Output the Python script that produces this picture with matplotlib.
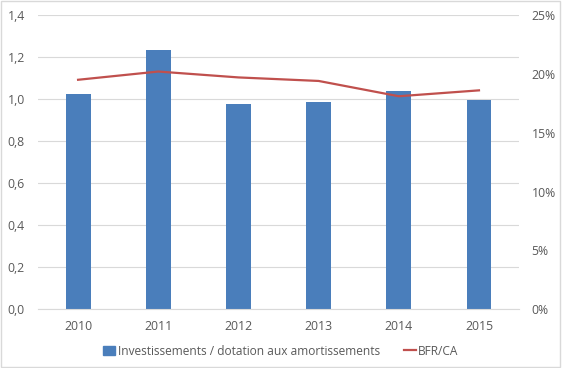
import matplotlib.pyplot as plt
from matplotlib.ticker import FuncFormatter
from matplotlib.lines import Line2D
from matplotlib.patches import Patch

years = ["2010", "2011", "2012", "2013", "2014", "2015"]
invest_ratio = [1.024, 1.233, 0.978, 0.985, 1.038, 0.996]
bfr_ca = [19.5, 20.2, 19.7, 19.4, 18.1, 18.6]

plt.rcParams['font.family'] = ['Open Sans', 'DejaVu Sans']
txt = '#595959'
blue = '#4a7ebb'
red = '#c0504d'

fig = plt.figure(figsize=(5.62, 3.68), dpi=100)
ax = fig.add_axes([0.0676, 0.160, 0.856, 0.799])
x = list(range(len(years)))
ax.bar(x, invest_ratio, width=0.31, color=blue, zorder=2)
ax.set_ylim(0, 1.4)
ax.set_yticks([0, 0.2, 0.4, 0.6, 0.8, 1.0, 1.2, 1.4])
ax.yaxis.set_major_formatter(FuncFormatter(lambda v, p: f"{v:.1f}".replace('.', ',')))
ax.set_xlim(-0.5, 5.5)
ax.set_xticks(x)
ax.set_xticklabels(years)
ax.grid(axis='y', color='#d9d9d9', linewidth=0.8, zorder=0)
ax.set_axisbelow(True)
for s in ax.spines.values():
    s.set_visible(False)
ax.spines['bottom'].set_visible(True)
ax.spines['bottom'].set_color('#d9d9d9')
ax.tick_params(length=0, colors=txt, labelsize=8.8)
ax.tick_params(axis='x', pad=8)
ax.tick_params(axis='y', pad=9.5)

ax2 = ax.twinx()
ax2.plot(x, bfr_ca, color=red, linewidth=1.6)
ax2.set_ylim(0, 25)
ax2.set_yticks([0, 5, 10, 15, 20, 25])
ax2.yaxis.set_major_formatter(FuncFormatter(lambda v, p: f"{v:.0f}%"))
for s in ax2.spines.values():
    s.set_visible(False)
ax2.tick_params(length=0, colors=txt, labelsize=8.8, pad=9)

handles = [Patch(color=blue), Line2D([], [], color=red, linewidth=1.6)]
fig.legend(handles, ["Investissements / dotation aux amortissements", "BFR/CA"],
           loc='center', bbox_to_anchor=(0.5, 0.046), ncol=2, frameon=False,
           fontsize=8.6, labelcolor=txt, handlelength=1.0, handletextpad=0.2,
           columnspacing=2.0)

fig.patches.append(plt.Rectangle((0.002, 0.003), 0.995, 0.993, transform=fig.transFigure,
                                 fill=False, edgecolor='#d9d9d9', linewidth=1))
fig.savefig('out.png', dpi=100)
